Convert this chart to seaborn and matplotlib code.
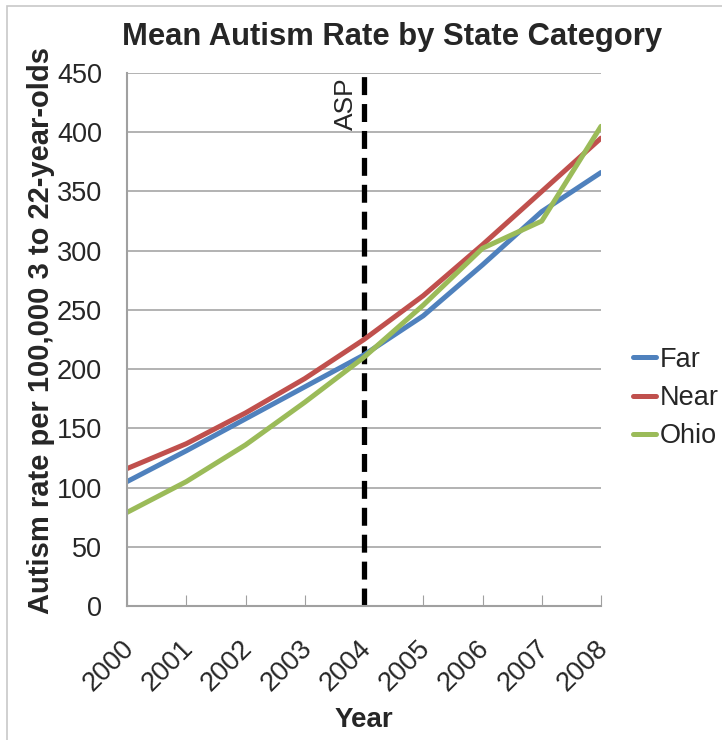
import matplotlib
matplotlib.use("Agg")
import matplotlib.pyplot as plt
import matplotlib.transforms as mtransforms
import seaborn as sns
import pandas as pd
from matplotlib.patches import Rectangle

years = [2000, 2001, 2002, 2003, 2004, 2005, 2006, 2007, 2008]
far = [105, 131, 158, 185, 212, 245, 288, 333, 366]
near = [116, 137, 163, 192, 225, 262, 305, 350, 395]
ohio = [79, 105, 136, 172, 210, 254, 302, 325, 405]
series_names = ["Far", "Near", "Ohio"]
colors = ["#4F81BD", "#C0504D", "#9BBB59"]
marker_year = 2004
marker_label = "ASP"

df = pd.DataFrame({
    "Year": years * 3,
    "Rate": far + near + ohio,
    "Category": sum([[n] * len(years) for n in series_names], []),
})

sns.set_style("white")
plt.rcParams["font.family"] = ["Liberation Sans", "DejaVu Sans"]

fig = plt.figure(figsize=(7.22, 7.40), dpi=100)
ax = fig.add_axes([127 / 722, 1 - 606 / 740, 474 / 722, 533 / 740])

sns.lineplot(data=df, x="Year", y="Rate", hue="Category", palette=colors,
             linewidth=3.6, ax=ax, legend=True)

ax.axvline(marker_year, color="black", linestyle=(0, (3.4, 1.7)), linewidth=3.8, zorder=1)
ax.text(marker_year - 0.1, 446, marker_label, rotation=90, ha="right", va="top",
        fontsize=19)

ax.set_xlim(years[0], years[-1])
ax.set_ylim(0, 450)
ax.set_yticks(range(0, 451, 50))
ax.set_xticks(years)
ax.set_xticklabels([str(y) for y in years], rotation=45, ha="right",
                   rotation_mode="anchor", fontsize=19.5)
ax.tick_params(axis="y", labelsize=19.5, length=0, pad=18)
ax.tick_params(axis="x", direction="in", length=8, color="#A0A0A0", pad=21, bottom=True)
shift = mtransforms.ScaledTranslation(-6 / 100, 0, fig.dpi_scale_trans)
for lbl in ax.get_xticklabels():
    lbl.set_transform(lbl.get_transform() + shift)
ax.yaxis.grid(True, color="#A6A6A6", linewidth=1.2)
ax.xaxis.grid(False)
for side in ["top", "right"]:
    ax.spines[side].set_visible(False)
for side in ["left", "bottom"]:
    ax.spines[side].set_color("#A0A0A0")
    ax.spines[side].set_linewidth(1.5)

ax.set_xlabel("Year", fontsize=20, fontweight="bold")
ax.xaxis.set_label_coords(0.5, (606 - 707) / 533)
ax.set_ylabel("Autism rate per 100,000 3 to 22-year-olds", fontsize=21,
              fontweight="bold")
ax.yaxis.set_label_coords((55 - 127) / 474, (606 - 331) / 533)
fig.text(392 / 722, 1 - 37 / 740, "Mean Autism Rate by State Category",
         fontsize=22.3, fontweight="bold", ha="center", va="center")

leg = ax.legend(loc="center left", bbox_to_anchor=((633 - 127) / 474, (606 - 398) / 533),
                frameon=False, borderpad=0, borderaxespad=0, fontsize=19.5,
                handlelength=0.85, handletextpad=0.12, labelspacing=0.45)
for h in leg.get_lines():
    h.set_linewidth(3.6)

fig.patches.append(Rectangle((7 / 722, -0.05), 1.1, 1 - 6 / 740 + 0.05,
                             transform=fig.transFigure, fill=False,
                             edgecolor="#C8C8C8", linewidth=1.2))

fig.savefig("out.png", dpi=100)
